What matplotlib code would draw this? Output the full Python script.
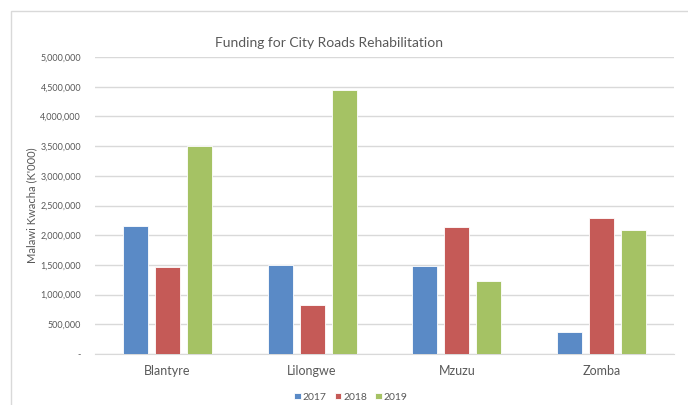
import matplotlib.pyplot as plt
import numpy as np
from matplotlib.patches import Rectangle
from matplotlib.ticker import FuncFormatter

plt.rcParams['font.family'] = ['Lato', 'DejaVu Sans']

cities = ['Blantyre', 'Lilongwe', 'Mzuzu', 'Zomba']
years = ['2017', '2018', '2019']
f2017 = [2150000, 1505000, 1478000, 375000]
f2018 = [1461000, 817000, 2133000, 2284000]
f2019 = [3500000, 4451000, 1237000, 2083000]
colors = ['#5A8AC6', '#C55A57', '#A5C264']

fig = plt.figure(figsize=(6.88, 4.05), dpi=100)
W, H = 688, 405
ax = fig.add_axes([95 / W, 1 - 354 / H, (674 - 95) / W, (354 - 57) / H])

# light chart-area border
fig.patches.append(Rectangle((10.5 / W, -0.1), 1.2, 1 - 11 / H + 0.1,
                             transform=fig.transFigure, fill=False,
                             edgecolor='#D9D9D9', linewidth=1))

x = np.arange(len(cities))
step = 0.221
width = 0.172
for i, (vals, yr) in enumerate(zip([f2017, f2018, f2019], years)):
    ax.bar(x + (i - 1) * step, vals, width, color=colors[i], label=yr,
           edgecolor='white', linewidth=0.6, zorder=3)

ax.set_xlim(-0.5, 3.5)
ax.set_ylim(0, 5000000)
ax.set_yticks(np.arange(0, 5000001, 500000))
ax.yaxis.set_major_formatter(FuncFormatter(lambda v, p: '-' if v == 0 else f'{int(v):,}'))
ax.grid(axis='y', color='#D9D9D9', linewidth=1, zorder=0)
for s in ['top', 'right', 'left']:
    ax.spines[s].set_visible(False)
ax.spines['bottom'].set_color('#D9D9D9')
ax.tick_params(axis='y', length=0, labelsize=6.5, labelcolor='#595959', pad=10)
ax.tick_params(axis='x', length=0, labelsize=9, labelcolor='#595959', pad=8)
ax.set_xticks(x)
ax.set_xticklabels(cities)

ax.set_ylabel("Malawi Kwacha (K'000)", fontsize=8, color='#595959', labelpad=0)
ax.yaxis.set_label_coords((37 - 95) / (674 - 95), 0.5)
fig.text(329 / W, 1 - 43 / H, 'Funding for City Roads Rehabilitation',
         ha='center', va='center', fontsize=10, color='#595959')

fig.legend(loc='center', bbox_to_anchor=(351 / W, 1 - 397 / H), ncol=3,
           frameon=False, fontsize=7.5, handlelength=0.6, handleheight=0.6,
           handletextpad=0.2, columnspacing=0.8, labelcolor='#595959')

fig.savefig('out.png', dpi=100, facecolor='white')
